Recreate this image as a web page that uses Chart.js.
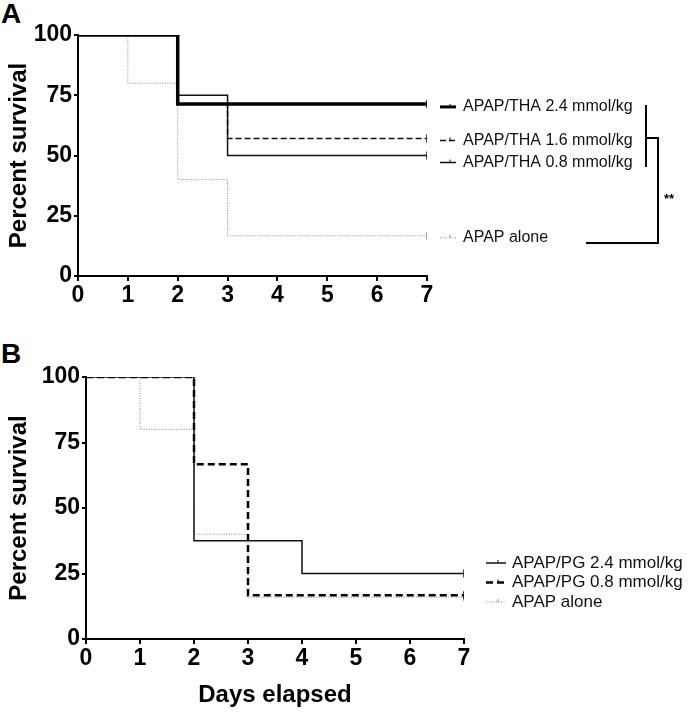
<!DOCTYPE html>
<html lang="en">
<head>
<meta charset="UTF-8">
<title>Survival curves</title>
<script src="https://cdn.jsdelivr.net/npm/chart.js"></script>
<style>
  body { margin: 0; background: #fff; width: 688px; height: 713px; position: relative; overflow: hidden; }
  .panel { position: absolute; left: 0; }
  .letter { position: absolute; left: 1px; font: bold 28px "Liberation Sans", Arial, sans-serif; color: #000; }
</style>
</head>
<body>
<div class="letter" style="top:-2px">A</div>
<div class="letter" style="top:338px">B</div>
<div class="panel" style="top:0"><canvas id="chartA" width="688" height="320"></canvas></div>
<div class="panel" style="top:340px"><canvas id="chartB" width="688" height="373"></canvas></div>

<script>
// panel A data
const daysA = [0, 1, 2, 3, 7];
const thaHigh = [100, 100, 71.4, 71.4, 71.4];
const thaMid = [100, 100, 71.4, 57.1, 57.1];
const thaLow = [100, 100, 75, 50, 50];
const aloneA = [100, 80, 40, 16.7, 16.7];
const labelsA = ["APAP/THA 2.4 mmol/kg", "APAP/THA 1.6 mmol/kg", "APAP/THA 0.8 mmol/kg", "APAP alone"];

// panel B data
const daysB = [0, 1, 2, 3, 4, 7];
const pgHigh = [100, 100, 37.5, 37.5, 25, 25];
const pgLow = [100, 100, 66.7, 16.7, 16.7, 16.7];
const aloneB = [100, 80, 40, 16, 16, 16];
const labelsB = ["APAP/PG 2.4 mmol/kg", "APAP/PG 0.8 mmol/kg", "APAP alone"];

const yTicks = [0, 25, 50, 75, 100];
const xTicks = [0, 1, 2, 3, 4, 5, 6, 7];

const FONT = '"Liberation Sans", Arial, sans-serif';

function pts(days, vals) {
  return days.map((d, i) => ({ x: d, y: vals[i] }));
}

// censored tick at last point only
function endTick(n) {
  return Array.from({ length: n }, (_, i) => (i === n - 1 ? 4 : 0));
}

function series(days, vals, color, width, dash) {
  return {
    data: pts(days, vals),
    stepped: "before",
    borderColor: color,
    borderWidth: width,
    borderDash: dash,
    fill: false,
    pointStyle: "line",
    rotation: 90,
    pointRadius: endTick(days.length),
    pointBorderColor: color,
    pointBorderWidth: 1.5,
    tension: 0,
  };
}

function scalesFor(yWidth, xHeight, withTitle) {
  return {
    x: {
      type: "linear",
      min: 0,
      max: 7,
      afterBuildTicks: (s) => { s.ticks = xTicks.map((v) => ({ value: v })); },
      afterFit: (s) => { s.height = xHeight; },
      border: { color: "#000", width: 2 },
      grid: { display: true, drawOnChartArea: false, color: "#000", lineWidth: 2, tickLength: 5 },
      ticks: { color: "#000", padding: 1, font: { family: FONT, size: 23, weight: "bold" } },
      title: {
        display: withTitle,
        text: "Days elapsed",
        color: "#000",
        padding: { top: 4, bottom: 0 },
        font: { family: FONT, size: 24, weight: "bold" },
      },
    },
    y: {
      min: 0,
      max: 100,
      afterBuildTicks: (s) => { s.ticks = yTicks.map((v) => ({ value: v })); },
      afterFit: (s) => { s.width = yWidth; },
      border: { color: "#000", width: 2 },
      grid: { display: true, drawOnChartArea: false, color: "#000", lineWidth: 2, tickLength: 4 },
      ticks: { color: "#000", padding: 2, font: { family: FONT, size: 23, weight: "bold" } },
      title: {
        display: true,
        text: "Percent survival",
        color: "#000",
        padding: { top: 5, bottom: 4 },
        font: { family: FONT, size: 24, weight: "bold" },
      },
    },
  };
}

function sample(ctx, x0, x1, y, color, width, dash) {
  ctx.save();
  ctx.strokeStyle = color;
  ctx.lineWidth = width;
  ctx.setLineDash(dash);
  ctx.beginPath();
  ctx.moveTo(x0, y);
  ctx.lineTo(x1, y);
  ctx.stroke();
  ctx.setLineDash([]);
  ctx.lineWidth = 1;
  ctx.beginPath();
  const mx = (x0 + x1) / 2 + 2;
  ctx.moveTo(mx, y - 3);
  ctx.lineTo(mx, y);
  ctx.stroke();
  ctx.restore();
}

// labels next to curve ends + significance bracket
const legendA = {
  id: "legendA",
  afterDraw(chart) {
    const ctx = chart.ctx;
    const ys = chart.scales.y;
    const ds = chart.data.datasets;
    const nudge = [3, 2, 7, 2];
    ctx.save();
    ctx.font = "16px " + FONT;
    ctx.fillStyle = "#111";
    ctx.textBaseline = "middle";
    ds.forEach((d, i) => {
      const last = d.data[d.data.length - 1].y;
      const y = ys.getPixelForValue(last) + nudge[i];
      sample(ctx, 440, 456, y, d.borderColor, Math.min(d.borderWidth, 3), d.borderDash);
      ctx.fillText(d.label, 463, y);
    });
    // bracket
    ctx.strokeStyle = "#000";
    ctx.lineWidth = 2;
    ctx.beginPath();
    ctx.moveTo(646, 105); ctx.lineTo(646, 167);
    ctx.moveTo(646, 138); ctx.lineTo(658, 138);
    ctx.lineTo(658, 243); ctx.lineTo(586, 243);
    ctx.stroke();
    ctx.font = "bold 13px " + FONT;
    ctx.fillStyle = "#000";
    ctx.fillText("**", 664, 199);
    ctx.restore();
  },
};

const legendB = {
  id: "legendB",
  afterDraw(chart) {
    const ctx = chart.ctx;
    const ds = chart.data.datasets;
    ctx.save();
    ctx.font = "17px " + FONT;
    ctx.fillStyle = "#111";
    ctx.textBaseline = "middle";
    ds.forEach((d, i) => {
      const y = 223 + i * 19.5;
      sample(ctx, 486, 506, y, d.borderColor, Math.min(d.borderWidth, 2.5), d.borderDash);
      ctx.fillText(d.label, 512, y);
    });
    ctx.restore();
  },
};

const common = {
  responsive: false,
  animation: false,
  plugins: { legend: { display: false }, tooltip: { enabled: false } },
};

new Chart(document.getElementById("chartA"), {
  type: "line",
  data: {
    datasets: [
      Object.assign(series(daysA, thaHigh, "#000", 3.5, []), { label: labelsA[0] }),
      Object.assign(series(daysA, thaMid, "#111", 1.5, [6, 3]), { label: labelsA[1] }),
      Object.assign(series(daysA, thaLow, "#111", 1.5, []), { label: labelsA[2] }),
      Object.assign(series(daysA, aloneA, "#8a8a8a", 1, [1, 1.5]), { label: labelsA[3] }),
    ],
  },
  options: Object.assign({}, common, {
    layout: { padding: { top: 35, left: 0, right: 261, bottom: 4 } },
    scales: scalesFor(78, 40, false),
  }),
  plugins: [legendA],
});

new Chart(document.getElementById("chartB"), {
  type: "line",
  data: {
    datasets: [
      Object.assign(series(daysB, pgHigh, "#111", 1.5, []), { label: labelsB[0] }),
      Object.assign(series(daysB, pgLow, "#000", 2.5, [7, 4]), { label: labelsB[1] }),
      Object.assign(series(daysB, aloneB, "#8a8a8a", 1, [1, 1.5]), { label: labelsB[2] }),
    ],
  },
  options: Object.assign({}, common, {
    layout: { padding: { top: 37, left: 0, right: 224, bottom: 3 } },
    scales: scalesFor(86, 71, true),
  }),
  plugins: [legendB],
});
</script>
</body>
</html>
